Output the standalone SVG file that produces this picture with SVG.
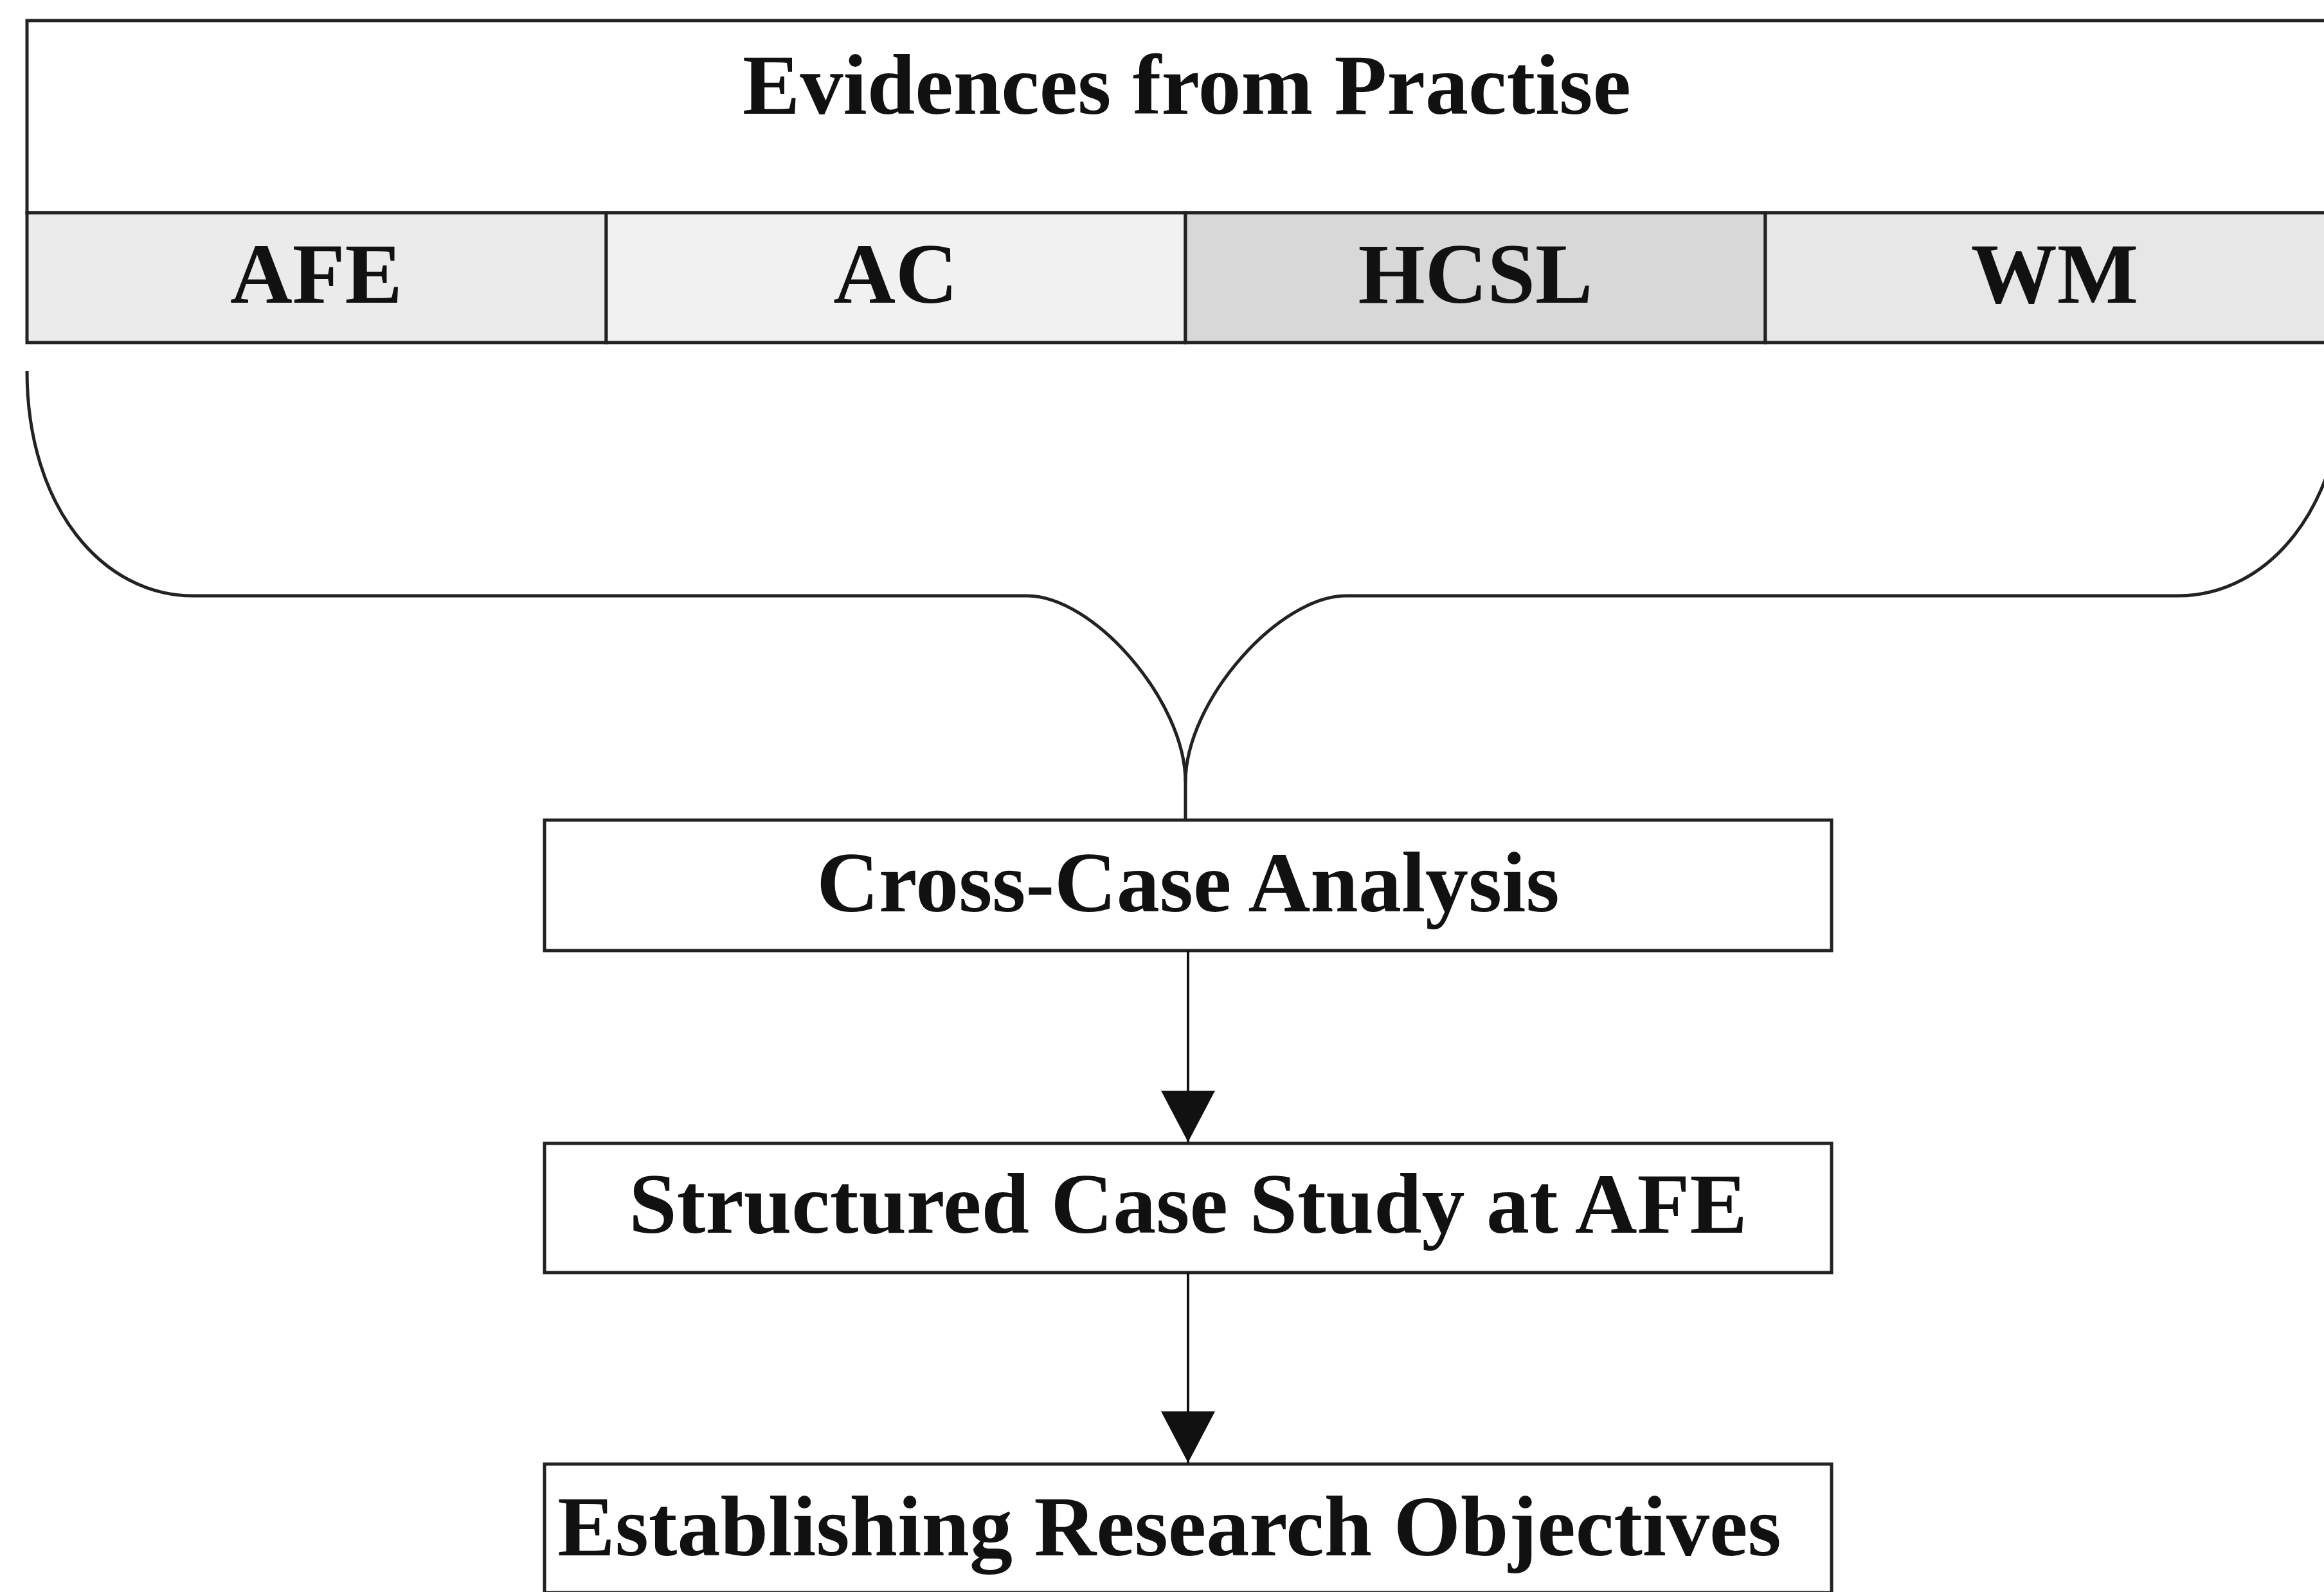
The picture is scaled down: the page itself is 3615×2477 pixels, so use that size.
<svg xmlns="http://www.w3.org/2000/svg" width="3615" height="2477" viewBox="0 0 3615 2477">
  <style>
    .box { fill: #ffffff; stroke: #222222; stroke-width: 5; }
    .cell { stroke: #222222; stroke-width: 5; }
    .lbl { font-family: "Liberation Serif", "Times New Roman", serif; font-weight: bold; font-size: 134px; fill: #111111; text-anchor: middle; }
    .brace { fill: none; stroke: #222222; stroke-width: 5; }
    .link { fill: none; stroke: #111111; stroke-width: 4; }
  </style>
  <defs>
    <!-- filled triangle pointing along the line direction -->
    <marker id="arrow" markerUnits="userSpaceOnUse" markerWidth="84" markerHeight="84" viewBox="0 0 84 84" refX="80" refY="42" orient="auto">
      <path d="M0,0 L80,42 L0,84 Z" fill="#111111"/>
    </marker>
  </defs>
  <rect x="0" y="0" width="3615" height="2477" fill="#ffffff"/>

  <!-- header panel with the four cases -->
  <g id="evidences">
    <rect class="box" x="42" y="32" width="3604" height="299"/>
    <text class="lbl" x="1846" y="177">Evidences from Practise</text>
  </g>
  <g id="case-afe">
    <rect class="cell" x="42" y="331" width="901" height="202" fill="#ebebeb"/>
    <text class="lbl" x="492" y="471">AFE</text>
  </g>
  <g id="case-ac">
    <rect class="cell" x="943" y="331" width="901" height="202" fill="#f1f1f1"/>
    <text class="lbl" x="1393" y="471">AC</text>
  </g>
  <g id="case-hcsl">
    <rect class="cell" x="1844" y="331" width="902" height="202" fill="#d8d8d8"/>
    <text class="lbl" x="2295" y="471">HCSL</text>
  </g>
  <g id="case-wm">
    <rect class="cell" x="2746" y="331" width="900" height="202" fill="#e7e7e7"/>
    <text class="lbl" x="3196" y="471">WM</text>
  </g>

  <!-- process steps -->
  <g id="cross-case">
    <rect class="box" x="847" y="1276" width="2002" height="203"/>
    <text class="lbl" x="1848" y="1418">Cross-Case Analysis</text>
  </g>
  <g id="structured-case">
    <rect class="box" x="847" y="1779" width="2002" height="201"/>
    <text class="lbl" x="1848" y="1918">Structured Case Study at AFE</text>
  </g>
  <g id="objectives">
    <rect class="box" x="847" y="2278" width="2002" height="200"/>
    <text class="lbl" x="1819" y="2420">Establishing Research Objectives</text>
  </g>

  <!-- connectors: grouping brace and flow arrows -->
  <g id="connectors">
    <path class="brace" d="M42,577 C42,790 160,927 300,927 L1598,927 C1700,927 1844,1090 1844,1217 L1844,1276"/>
    <path class="brace" d="M3646,577 C3646,790 3528,927 3388,927 L2094,927 C1990,927 1844,1090 1844,1217"/>
    <line class="link" x1="1848" y1="1479" x2="1848" y2="1777" marker-end="url(#arrow)"/>
    <line class="link" x1="1848" y1="1980" x2="1848" y2="2276" marker-end="url(#arrow)"/>
  </g>
</svg>
